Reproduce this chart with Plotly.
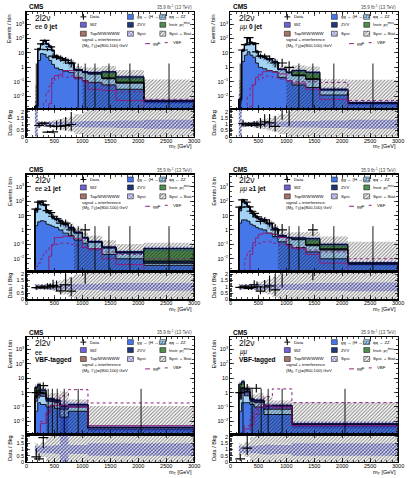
import math
import plotly.graph_objects as go

W, H = 409, 478
FONT = "Liberation Sans"

# ---------------- data ----------------
EDGES_JET = [150, 200, 250, 300, 350, 400, 450, 500, 575, 650, 750, 850, 1000, 1100, 1350, 1600, 2100, 3000]
EDGES_VBF = [150, 200, 250, 350, 425, 500, 600, 750, 1100, 3000]
X_TICKS = [0, 500, 1000, 1500, 2000, 2500, 3000]
Y_TICKS = [0.01, 0.1, 1, 10, 100, 1000]
Y_TICK_TEXT = ["10<sup>−2</sup>", "10<sup>−1</sup>", "1", "10", "10<sup>2</sup>", "10<sup>3</sup>"]
R_TICKS = [0, 0.5, 1, 1.5, 2]
R_TICK_TEXT = ["0", "0.5", "1", "1.5", "2"]

# ee, 0 jet
ee0_gg = [0.001, 3.0, 9.0, 8.0, 5.0, 3.0, 1.6, 0.9, 0.7, 0.55, 0.45, 0.2, 0.12, 0.09, 0.06, 0.03, 0.004]
ee0_qq = [0.001, 14, 28, 55, 35, 24, 12, 4.5, 3.5, 2.5, 1.4, 0.4, 0.3, 0.25, 0.1, 0.05, 0.0006]
ee0_wz = [0, 1.2, 1.5, 3.0, 2.0, 1.2, 0.8, 0.3, 0.2, 0.12, 0.08, 0.03, 0.02, 0.02, 0.01, 0.005, 0]
ee0_zvv = [0, 0.4, 0.6, 1.0, 0.7, 0.5, 0.3, 0.15, 0.1, 0.08, 0.05, 0.02, 0.02, 0.03, 0.02, 0.01, 0]
ee0_ins = [0, 0.8, 0.8, 1.5, 1.5, 0.8, 0.5, 0.2, 0.15, 0.1, 0.05, 0.03, 0.03, 0.05, 0.3, 0.12, 0]
ee0_top = [0, 0.6, 0.5, 0.6, 0.4, 0.2, 0.1, 0.05, 0.03, 0.02, 0.01, 0, 0, 0, 0, 0, 0]
ee0_data = [0, 18, 42, 75, 17, 26, 6, 5, 4, 3, 2, 0, 0, 0, 0, 0, 0]
ee0_ggf = [0, 0, 0, 0, 0.001, 0.003, 0.17, 0.27, 0.3, 0.6, 0.6, 0.17, 0.1, 0.03, 0.025, 0.005, 0]
ee0_vbf = [0, 0, 0, 0.004, 0.02, 0.05, 0.08, 0.15, 0.25, 0.2, 0.25, 0.2, 0.12, 0.08, 0.05, 0.02, 0.006]
ee0_syst = [1.5, 0.2, 0.18, 0.18, 0.18, 0.2, 0.2, 0.2, 0.2, 0.2, 0.22, 0.22, 0.25, 0.25, 0.25, 0.3, 0.35]
ee0_tot = [30, 0.25, 0.2, 0.2, 0.22, 0.25, 0.3, 0.35, 0.4, 0.5, 0.6, 0.8, 1.0, 1.2, 1.5, 2.0, 30]

# mumu, 0 jet
mm0_gg = [0.004, 2.5, 7, 12, 7, 5, 2, 1, 0.8, 0.6, 0.5, 0.2, 0.12, 0.06, 0.04, 0.012, 0.003]
mm0_qq = [0.002, 11, 30, 92, 45, 34, 10, 4.6, 4, 2.8, 1.8, 0.5, 0.3, 0.2, 0.1, 0.015, 0.0004]
mm0_wz = [0, 0.8, 1.5, 3, 1.5, 1.2, 0.5, 0.2, 0.1, 0.1, 0.05, 0.02, 0.01, 0.01, 0.01, 0, 0]
mm0_zvv = [0, 0.3, 0.6, 1.0, 0.6, 0.5, 0.2, 0.1, 0.05, 0.05, 0.03, 0.01, 0.01, 0.03, 0.02, 0.002, 0]
mm0_ins = [0, 0.3, 0.6, 1.5, 0.6, 0.8, 0.2, 0.1, 0.05, 0.05, 0.02, 0.01, 0.01, 0.3, 0.28, 0.001, 0]
mm0_top = [0, 0.2, 0.3, 0.5, 0.3, 0.5, 0.1, 0.05, 0.02, 0.02, 0, 0, 0, 0, 0, 0, 0]
mm0_data = [0, 16, 38, 115, 50, 45, 12, 6, 6, 4, 2, 2, 1, 0, 0, 0, 0]
mm0_ggf = [0, 0, 0, 0, 0.002, 0.06, 0.2, 0.3, 0.5, 0.55, 0.45, 0.35, 0.12, 0.08, 0.03, 0.006, 0]
mm0_vbf = [0, 0, 0, 0.01, 0.05, 0.08, 0.12, 0.15, 0.2, 0.25, 0.2, 0.15, 0.12, 0.1, 0.1, 0.09, 0.005]
mm0_syst = [1.5, 0.2, 0.18, 0.18, 0.18, 0.2, 0.2, 0.2, 0.2, 0.2, 0.22, 0.22, 0.25, 0.25, 0.25, 0.3, 0.35]
mm0_tot = [20, 0.25, 0.2, 0.2, 0.22, 0.25, 0.3, 0.35, 0.4, 0.5, 0.6, 0.8, 1.0, 1.2, 1.5, 4.0, 40]

# ee, >=1 jet
ee1_gg = [2, 3.7, 4.4, 4, 2.5, 2.2, 1.8, 1.5, 1.0, 0.6, 0.4, 0.2, 0.12, 0.05, 0.02, 0.01, 0.0035]
ee1_qq = [15, 60, 70, 45, 14, 11, 5, 3.8, 2.8, 1.7, 0.9, 0.4, 0.15, 0.09, 0.035, 0.015, 0.0015]
ee1_wz = [6, 12, 10, 5, 2, 1.2, 0.6, 0.4, 0.3, 0.15, 0.1, 0.05, 0.02, 0.01, 0.005, 0.002, 0]
ee1_zvv = [1, 2, 2, 1.5, 0.5, 0.4, 0.2, 0.1, 0.1, 0.05, 0.04, 0.02, 0.01, 0.005, 0.002, 0.001, 0.002]
ee1_ins = [1, 3, 3, 2, 1, 0.6, 0.2, 0.1, 0.1, 0.05, 0.04, 0.02, 0.005, 0.005, 0.003, 0.002, 0.045]
ee1_top = [5, 10, 6, 3, 1, 0.5, 0.2, 0.1, 0.1, 0.05, 0.02, 0.01, 0, 0, 0, 0, 0]
ee1_data = [28, 85, 100, 55, 22, 16, 9, 6, 3, 3, 1, 0, 1, 0, 0, 0, 0]
ee1_ggf = [0, 0, 0, 0, 0.001, 0.015, 0.1, 0.3, 0.3, 0.37, 0.35, 0.24, 0.06, 0.05, 0.01, 0.004, 0]
ee1_vbf = [0.003, 0.005, 0.01, 0.02, 0.04, 0.06, 0.08, 0.1, 0.12, 0.12, 0.1, 0.08, 0.06, 0.04, 0.03, 0.02, 0.01]
ee1_syst = [0.2, 0.18, 0.18, 0.18, 0.2, 0.2, 0.2, 0.22, 0.22, 0.22, 0.25, 0.25, 0.25, 0.25, 0.3, 0.3, 0.3]
ee1_tot = [0.25, 0.2, 0.2, 0.2, 0.25, 0.25, 0.3, 0.4, 0.5, 0.6, 0.8, 1.0, 1.2, 1.5, 2.0, 2.5, 1.5]

# mumu, >=1 jet
mm1_gg = [3, 5, 5, 4, 2.5, 2, 1.5, 1.2, 1, 0.6, 0.35, 0.15, 0.1, 0.06, 0.03, 0.01, 0.004]
mm1_qq = [18, 90, 60, 35, 15, 8, 5.5, 4.2, 3.3, 2, 0.85, 0.22, 0.18, 0.15, 0.05, 0.03, 0.001]
mm1_wz = [8, 15, 6, 3, 1.5, 1, 0.5, 0.3, 0.3, 0.1, 0.05, 0.02, 0.01, 0.01, 0.01, 0.005, 0]
mm1_zvv = [1.5, 3, 2, 1, 0.5, 0.3, 0.2, 0.1, 0.1, 0.05, 0.03, 0.01, 0.01, 0.01, 0.01, 0.005, 0]
mm1_ins = [3, 5, 3, 1, 1, 0.4, 0.2, 0.15, 0.3, 0.05, 0.02, 0.0, 0, 0.05, 0.15, 0.05, 0]
mm1_top = [6, 12, 4, 1.5, 0.5, 0.3, 0.1, 0.05, 0.05, 0.0, 0, 0, 0, 0, 0, 0, 0]
mm1_data = [38, 125, 85, 40, 20, 14, 8, 4, 5, 3, 1, 1, 0, 0, 1, 0, 0]
mm1_ggf = [0, 0, 0, 0.001, 0.02, 0.13, 0.28, 0.5, 0.6, 0.6, 0.5, 0.3, 0.08, 0.05, 0.02, 0.005, 0]
mm1_vbf = [0, 0, 0.01, 0.03, 0.05, 0.08, 0.1, 0.12, 0.15, 0.15, 0.12, 0.1, 0.08, 0.06, 0.04, 0.03, 0.01]
mm1_syst = [0.2, 0.18, 0.18, 0.18, 0.2, 0.2, 0.2, 0.22, 0.22, 0.22, 0.25, 0.25, 0.25, 0.25, 0.3, 0.3, 0.35]
mm1_tot = [0.25, 0.2, 0.2, 0.2, 0.25, 0.25, 0.3, 0.4, 0.5, 0.6, 0.8, 1.0, 1.2, 1.5, 2.0, 2.5, 30]

# ee, VBF-tagged
eev_gg = [0.05, 0.2, 0.15, 0.1, 0.12, 0.08, 0.02, 0.05, 0.003]
eev_qq = [0.2, 0.5, 0.4, 0.15, 0.12, 0.12, 0.05, 0.05, 0.0008]
eev_wz = [0.3, 0.6, 0.3, 0.05, 0.06, 0.05, 0.04, 0.04, 0]
eev_zvv = [0.05, 0.2, 0.1, 0.05, 0.05, 0.04, 0.01, 0.01, 0]
eev_ins = [1.5, 2.0, 0.5, 0.02, 0.02, 0.01, 0.01, 0.0, 0]
eev_top = [0.3, 0.3, 0.1, 0, 0, 0, 0, 0, 0]
eev_data = [1, 1, 3, 0, 0, 0, 0, 0, 0]
eev_ggf = [0, 0, 0.007, 0.035, 0.13, 0.13, 0.13, 0.1, 0.005]
eev_vbf = [0, 0, 0.01, 0.05, 0.1, 0.2, 0.6, 1.6, 0.19]
eev_syst = [0.25, 0.25, 0.3, 0.3, 0.3, 0.35, 1.2, 0.35, 0.5]
eev_tot = [0.5, 0.4, 0.6, 1.0, 1.5, 2.0, 8.0, 1.2, 30]

# mumu, VBF-tagged
mmv_gg = [0.05, 0.2, 0.2, 0.15, 0.1, 0.1, 0.03, 0.03, 0.005]
mmv_qq = [0.3, 0.8, 0.4, 0.1, 0.1, 0.1, 0.04, 0.04, 0.0015]
mmv_wz = [0.5, 1.0, 0.5, 0.06, 0.05, 0.05, 0.04, 0.04, 0]
mmv_zvv = [0.1, 0.2, 0.1, 0.03, 0.03, 0.03, 0.015, 0.015, 0]
mmv_ins = [2.5, 3.0, 0.4, 0.02, 0.02, 0.02, 0.005, 0.005, 0]
mmv_top = [0.5, 0.8, 0.2, 0, 0, 0, 0, 0, 0]
mmv_data = [1, 0, 2, 0, 2, 0, 0, 0, 0]
mmv_ggf = [0, 0, 0.003, 0.006, 0.03, 0.1, 0.12, 0.1, 0.005]
mmv_vbf = [0, 0, 0.005, 0.02, 0.08, 0.15, 0.55, 1.8, 0.2]
mmv_syst = [0.25, 0.25, 0.3, 0.3, 0.3, 0.35, 0.4, 0.35, 0.5]
mmv_tot = [0.5, 0.4, 0.6, 1.0, 1.5, 2.0, 3.0, 1.2, 30]

# ---------------- style ----------------
C_GG = "#4677e8"
C_QQ = "#a5d3f6"
C_WZ = "#6f62d6"
C_ZVV = "#1f3677"
C_INS = "#4f8e4f"
C_TOP = "#a6736a"
C_SIG = "#8c1f7c"
C_SYST = "#1218a8"
COMP_COLORS = [C_GG, C_QQ, C_WZ, C_ZVV, C_INS, C_TOP]
TINY = 1e-5

COLS_L = [25, 233]
PW = 171
ROW_T = [11, 175, 339]
MAIN_H = 98
RATIO_H = 28
LOG_RANGE = [-2.9, 3.85]
R_RANGE = [0, 2.2]

PANELS = [
    (0, 0, EDGES_JET, [ee0_gg, ee0_qq, ee0_wz, ee0_zvv, ee0_ins, ee0_top], ee0_data, ee0_ggf, ee0_vbf, ee0_syst, ee0_tot, ["ee <b>0 jet</b>"]),
    (1, 0, EDGES_JET, [mm0_gg, mm0_qq, mm0_wz, mm0_zvv, mm0_ins, mm0_top], mm0_data, mm0_ggf, mm0_vbf, mm0_syst, mm0_tot, ["<i>μμ</i> <b>0 jet</b>"]),
    (0, 1, EDGES_JET, [ee1_gg, ee1_qq, ee1_wz, ee1_zvv, ee1_ins, ee1_top], ee1_data, ee1_ggf, ee1_vbf, ee1_syst, ee1_tot, ["ee <b>≥1 jet</b>"]),
    (1, 1, EDGES_JET, [mm1_gg, mm1_qq, mm1_wz, mm1_zvv, mm1_ins, mm1_top], mm1_data, mm1_ggf, mm1_vbf, mm1_syst, mm1_tot, ["<i>μμ</i> <b>≥1 jet</b>"]),
    (0, 2, EDGES_VBF, [eev_gg, eev_qq, eev_wz, eev_zvv, eev_ins, eev_top], eev_data, eev_ggf, eev_vbf, eev_syst, eev_tot, ["ee", "<b>VBF-tagged</b>"]),
    (1, 2, EDGES_VBF, [mmv_gg, mmv_qq, mmv_wz, mmv_zvv, mmv_ins, mmv_top], mmv_data, mmv_ggf, mmv_vbf, mmv_syst, mmv_tot, ["<i>μμ</i>", "<b>VBF-tagged</b>"]),
]


def closed_step(edges, vals):
    xs = [edges[0]] + list(edges[:-1]) + [edges[-1], edges[-1]]
    ys = [TINY] + [max(v, TINY) for v in vals] + [max(vals[-1], TINY), TINY]
    return xs, ys


def open_step(edges, vals):
    xs = list(edges)
    ys = list(vals) + [vals[-1]]
    return xs, ys


fig = go.Figure()
layout = {}
annotations = []
shapes = []
legend_hatch = []  # (x0, y0, x1, y1, pattern) in figure pixels


def pxx(p):
    return p / W


def pxy(p):
    return 1 - p / H


def axis_common():
    return dict(ticks="inside", mirror="allticks", showline=True, linecolor="black",
                linewidth=1.3, tickcolor="black", tickwidth=0.7, showgrid=False,
                zeroline=False, tickfont=dict(family=FONT, size=5.5, color="black"))


SYST_PAT = dict(shape="x", fgcolor=C_SYST, bgcolor="rgba(0,0,0,0)", size=2.5, solidity=0.6)
TOT_PAT = dict(shape="/", fgcolor="#000000", bgcolor="rgba(0,0,0,0)", size=2.5, solidity=0.4)

for k, (col, row, edges, comps, data, ggf, vbf, syst, tot, chan) in enumerate(PANELS):
    L = COLS_L[col]
    T = ROW_T[row]
    ia, ib = 2 * k + 1, 2 * k + 2
    xa, ya = f"x{ia}", f"y{ia}"
    xb, yb = f"x{ib}", f"y{ib}"
    nb = len(edges) - 1
    centers = [(edges[i] + edges[i + 1]) / 2 for i in range(nb)]
    total = [sum(c[i] for c in comps) for i in range(nb)]

    # stacked components
    xs, ys = closed_step(edges, [TINY] * nb)
    fig.add_trace(go.Scatter(x=xs, y=ys, xaxis=xa, yaxis=ya, mode="lines",
                             line=dict(width=0, shape="hv"), hoverinfo="skip", showlegend=False))
    cum = [0.0] * nb
    for comp, colr in zip(comps, COMP_COLORS):
        cum = [cum[i] + comp[i] for i in range(nb)]
        xs, ys = closed_step(edges, cum)
        fig.add_trace(go.Scatter(x=xs, y=ys, xaxis=xa, yaxis=ya, mode="lines",
                                 line=dict(color="black", width=0.9, shape="hv"),
                                 fill="tonexty", fillcolor=colr, hoverinfo="skip", showlegend=False))

    # syst + stat band
    lo = [max(total[i] * (1 - tot[i]), TINY) for i in range(nb)]
    hi = [total[i] * (1 + tot[i]) for i in range(nb)]
    xs, ys = open_step(edges, lo)
    fig.add_trace(go.Scatter(x=xs, y=ys, xaxis=xa, yaxis=ya, mode="lines",
                             line=dict(width=0, shape="hv"), hoverinfo="skip", showlegend=False))
    xs, ys = open_step(edges, hi)
    fig.add_trace(go.Scatter(x=xs, y=ys, xaxis=xa, yaxis=ya, mode="lines",
                             line=dict(width=0, shape="hv"), fill="tonexty",
                             fillcolor="rgba(0,0,0,0)", fillpattern=TOT_PAT,
                             hoverinfo="skip", showlegend=False))
    # syst band
    lo = [max(total[i] * (1 - syst[i]), TINY) for i in range(nb)]
    hi = [total[i] * (1 + syst[i]) for i in range(nb)]
    xs, ys = open_step(edges, lo)
    fig.add_trace(go.Scatter(x=xs, y=ys, xaxis=xa, yaxis=ya, mode="lines",
                             line=dict(width=0, shape="hv"), hoverinfo="skip", showlegend=False))
    xs, ys = open_step(edges, hi)
    fig.add_trace(go.Scatter(x=xs, y=ys, xaxis=xa, yaxis=ya, mode="lines",
                             line=dict(width=0, shape="hv"), fill="tonexty",
                             fillcolor="rgba(0,0,0,0)", fillpattern=SYST_PAT,
                             hoverinfo="skip", showlegend=False))

    # signal lines
    xs, ys = closed_step(edges, ggf)
    fig.add_trace(go.Scatter(x=xs, y=ys, xaxis=xa, yaxis=ya, mode="lines",
                             line=dict(color=C_SIG, width=1.0, shape="hv"), hoverinfo="skip", showlegend=False))
    xs, ys = closed_step(edges, vbf)
    fig.add_trace(go.Scatter(x=xs, y=ys, xaxis=xa, yaxis=ya, mode="lines",
                             line=dict(color=C_SIG, width=1.0, shape="hv", dash="dot"), hoverinfo="skip", showlegend=False))

    # data
    dx, dy, up, dn = [], [], [], []
    zx, zy = [], []
    for i in range(nb):
        n = data[i]
        if n > 0:
            dx.append(centers[i]); dy.append(n)
            up.append(0.5 + math.sqrt(n + 0.25)); dn.append(math.sqrt(n + 0.25) - 0.5)
        else:
            zx += [centers[i], centers[i], None]
            zy += [TINY, 1.84, None]
    fig.add_trace(go.Scatter(x=zx, y=zy, xaxis=xa, yaxis=ya, mode="lines",
                             line=dict(color="black", width=0.9), hoverinfo="skip", showlegend=False))
    fig.add_trace(go.Scatter(x=dx, y=dy, xaxis=xa, yaxis=ya, mode="markers",
                             marker=dict(symbol="line-ew", size=7, line=dict(color="black", width=1.2)),
                             error_y=dict(type="data", array=up, arrayminus=dn, color="black", thickness=1.1, width=0),
                             hoverinfo="skip", showlegend=False))

    # ratio panel
    xs, ys = open_step(edges, [max(1 - t, 0) for t in tot])
    fig.add_trace(go.Scatter(x=xs, y=ys, xaxis=xb, yaxis=yb, mode="lines",
                             line=dict(width=0, shape="hv"), hoverinfo="skip", showlegend=False))
    xs, ys = open_step(edges, [1 + t for t in tot])
    fig.add_trace(go.Scatter(x=xs, y=ys, xaxis=xb, yaxis=yb, mode="lines",
                             line=dict(width=0, shape="hv"), fill="tonexty", fillcolor="rgba(0,0,0,0)",
                             fillpattern=TOT_PAT, hoverinfo="skip", showlegend=False))
    xs, ys = open_step(edges, [max(1 - s, 0) for s in syst])
    fig.add_trace(go.Scatter(x=xs, y=ys, xaxis=xb, yaxis=yb, mode="lines",
                             line=dict(width=0, shape="hv"), hoverinfo="skip", showlegend=False))
    xs, ys = open_step(edges, [1 + s for s in syst])
    fig.add_trace(go.Scatter(x=xs, y=ys, xaxis=xb, yaxis=yb, mode="lines",
                             line=dict(width=0, shape="hv"), fill="tonexty", fillcolor="rgba(0,0,0,0)",
                             fillpattern=SYST_PAT, hoverinfo="skip", showlegend=False))
    rx, ry, ru, rd = [], [], [], []
    for i in range(nb):
        n = data[i]
        if n > 0 and total[i] > 0:
            rx.append(centers[i]); ry.append(n / total[i])
            ru.append((0.5 + math.sqrt(n + 0.25)) / total[i])
            rd.append((math.sqrt(n + 0.25) - 0.5) / total[i])
    fig.add_trace(go.Scatter(x=rx, y=ry, xaxis=xb, yaxis=yb, mode="markers",
                             marker=dict(symbol="line-ew", size=7, line=dict(color="black", width=1.2)),
                             error_y=dict(type="data", array=ru, arrayminus=rd, color="black", thickness=1.1, width=0),
                             hoverinfo="skip", showlegend=False))

    # axes
    xdom = [pxx(L), pxx(L + PW)]
    ax = axis_common()
    ax.update(domain=xdom, range=[0, 3000], tickvals=X_TICKS, showticklabels=False, anchor=ya,
              ticklen=4, minor=dict(ticks="inside", dtick=100, ticklen=2, tickcolor="black"))
    layout["xaxis" if ia == 1 else f"xaxis{ia}"] = ax
    ay = axis_common()
    ay.update(domain=[pxy(T + MAIN_H), pxy(T)], type="log", range=LOG_RANGE, tickvals=Y_TICKS,
              ticktext=Y_TICK_TEXT, anchor=xa, ticklen=4,
              minor=dict(ticks="inside", ticklen=2, tickcolor="black"))
    layout["yaxis" if ia == 1 else f"yaxis{ia}"] = ay
    bx = axis_common()
    bx.update(domain=xdom, range=[0, 3000], tickvals=X_TICKS, anchor=yb, ticklen=4,
              ticklabelstandoff=-2,
              minor=dict(ticks="inside", dtick=100, ticklen=2, tickcolor="black"))
    layout[f"xaxis{ib}"] = bx
    by = axis_common()
    by.update(domain=[pxy(T + MAIN_H + RATIO_H), pxy(T + MAIN_H)], range=R_RANGE, tickvals=R_TICKS,
              ticktext=R_TICK_TEXT, anchor=xb, ticklen=3,
              minor=dict(ticks="inside", dtick=0.1, ticklen=1.5, tickcolor="black"))
    layout[f"yaxis{ib}"] = by

    # texts
    def ann(x, y, text, size, xanchor="left", yanchor="middle", color="black", angle=0):
        annotations.append(dict(x=pxx(x), y=pxy(y), xref="paper", yref="paper", text=text,
                                showarrow=False, xanchor=xanchor, yanchor=yanchor, textangle=angle,
                                font=dict(family=FONT, size=size, color=color)))

    ann(L + 1, T - 5, "<b>CMS</b>", 6.5)
    ann(L + PW, T - 5, "35.9 fb<sup>-1</sup> (13 TeV)", 4.5, xanchor="right", color="#444444")
    ann(L + 7, T + 6, "2l2ν", 8.5)
    for j, t in enumerate(chan):
        ann(L + 7, T + 15 + 8 * j, t, 6.5)
    ann(L - 17, T, "Events / bin", 5.5, xanchor="center", yanchor="top", angle=-90)
    ann(L - 17, T + MAIN_H + RATIO_H / 2, "Data / Bkg", 5.5, xanchor="center", yanchor="middle", angle=-90)
    ann(L + PW, T + MAIN_H + RATIO_H + 10, "m<sub>T</sub> [GeV]", 5.5, xanchor="right")

    # legend
    rows_y = [T + 5, T + 13, T + 22]
    leg = [
        [("data", None, "Data"), ("box", C_WZ, "WZ"), ("box", C_TOP, "Top/WW/WWW")],
        [("box", C_GG, "gg → (H →) ZZ"), ("box", C_ZVV, "ZVV"), ("syst", None, "Syst.")],
        [("box", C_QQ, "qq → ZZ"), ("box", C_INS, "Instr. p<sub>T</sub><sup>miss</sup>"), ("tot", None, "Syst. + Stat.")],
    ]
    box_x = [L + 55, L + 103, L + 136]
    for ci, entries in enumerate(leg):
        bx0 = box_x[ci]
        for ri, (kind, colr, label) in enumerate(entries):
            yc = rows_y[ri]
            if kind == "data":
                shapes.append(dict(type="line", xref="paper", yref="paper", x0=pxx(bx0 + 3), x1=pxx(bx0 + 3),
                                   y0=pxy(yc - 3), y1=pxy(yc + 3), line=dict(color="black", width=1)))
                shapes.append(dict(type="line", xref="paper", yref="paper", x0=pxx(bx0), x1=pxx(bx0 + 6),
                                   y0=pxy(yc), y1=pxy(yc), line=dict(color="black", width=1)))
            elif kind == "box":
                shapes.append(dict(type="rect", xref="paper", yref="paper", x0=pxx(bx0), x1=pxx(bx0 + 6),
                                   y0=pxy(yc + 2.5), y1=pxy(yc - 2.5), fillcolor=colr,
                                   line=dict(color="black", width=0.5)))
            else:
                legend_hatch.append((bx0, yc - 2.5, bx0 + 6, yc + 2.5, SYST_PAT if kind == "syst" else TOT_PAT))
            ann(bx0 + 7.5, yc, label, 4.3)
    ann(L + 55, T + 28, "signal + interference", 4.3)
    ann(L + 55, T + 34, "(M<sub>X</sub>, Γ<sub>X</sub>)=(800,100) GeV", 4.3)
    shapes.append(dict(type="line", xref="paper", yref="paper", x0=pxx(L + 121), x1=pxx(L + 126),
                       y0=pxy(T + 32), y1=pxy(T + 32), line=dict(color=C_SIG, width=1)))
    ann(L + 127, T + 32, "ggF", 4.3)
    shapes.append(dict(type="line", xref="paper", yref="paper", x0=pxx(L + 141), x1=pxx(L + 146),
                       y0=pxy(T + 31), y1=pxy(T + 31), line=dict(color=C_SIG, width=1, dash="dot")))
    ann(L + 147, T + 31, "VBF", 4.3)

# overlay axis in figure pixels for hatched legend glyphs
for (x0, y0, x1, y1, pat) in legend_hatch:
    fig.add_trace(go.Scatter(x=[x0, x1, x1, x0, x0], y=[y0, y0, y1, y1, y0], xaxis="x13", yaxis="y13",
                             mode="lines", line=dict(color="black", width=0.5), fill="toself",
                             fillcolor="white", fillpattern=pat, hoverinfo="skip", showlegend=False))
layout["xaxis13"] = dict(domain=[0, 1], range=[0, W], visible=False, anchor="y13")
layout["yaxis13"] = dict(domain=[0, 1], range=[H, 0], visible=False, anchor="x13")

fig.update_layout(width=W, height=H, margin=dict(l=0, r=0, t=0, b=0),
                  paper_bgcolor="white", plot_bgcolor="rgba(0,0,0,0)", showlegend=False,
                  annotations=annotations, shapes=shapes, **layout)
fig.write_html("out.html", config={"displayModeBar": False, "staticPlot": True},
               post_script="document.body.style.margin='0px';document.body.style.padding='0px';")
